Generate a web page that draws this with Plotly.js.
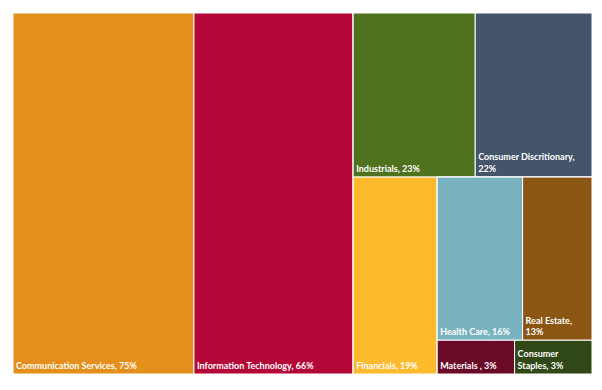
<!DOCTYPE html>
<html><head><meta charset="utf-8">
<script src="https://cdn.plot.ly/plotly-3.0.1.min.js"></script>
<style>html,body{margin:0;padding:0;background:#fff}</style>
</head><body><div id="chart" style="width:602px;height:390px"></div>
<script>
const categories = ["Communication Services","Information Technology","Industrials","Consumer Discritionary","Financials","Health Care","Real Estate","Materials ","Consumer Staples"];
const values = [75,66,23,22,19,16,13,3,3];
const colors = ["#E48F1B","#B30838","#4F721E","#44546A","#FDBA2C","#7AB3C0","#8B5514","#6A0A26","#2F4815"];
// words on the first label line (0 = single line)
const wrapWords = [0,0,0,2,0,0,2,0,1];
// strip grouping of tiles as laid out in the reference (indices into categories)
const tree = ["root", [0, 1, ["g1", [["g2", [2, 3]], ["g3", [4, ["g4", [["g5", [5, 6]], ["g6", [7, 8]]]]]]]]]];

const ids = [], parents = [], vals = [], cols = [], tmpl = [], labs = [];
function labelText(i) {
  const full = categories[i] + ", " + values[i] + "%";
  if (!wrapWords[i]) return full;
  const w = full.split(" ");
  return w.slice(0, wrapWords[i]).join(" ") + "<br>" + w.slice(wrapWords[i]).join(" ");
}
function walk(node, parent) {
  if (typeof node === "number") {
    ids.push("c" + node); parents.push(parent); vals.push(values[node]);
    cols.push(colors[node]); tmpl.push(labelText(node)); labs.push(categories[node]);
    return;
  }
  const [id, kids] = node;
  ids.push(id); parents.push(parent); vals.push(0); cols.push("#ffffff"); tmpl.push(""); labs.push("");
  kids.forEach(k => walk(k, id));
}
walk(tree, "");

const trace = {
  type: "treemap",
  ids: ids, labels: labs, parents: parents, values: vals,
  branchvalues: "remainder",
  sort: false,
  texttemplate: tmpl,
  textposition: "bottom left",
  textfont: {family: "Lato, 'Liberation Sans', sans-serif", size: 9, color: "#ffffff", weight: "bold"},
  marker: {colors: cols, line: {color: "#ffffff", width: 1}, pad: {t: 0, l: 0, r: 0, b: 0}},
  tiling: {packing: "slice-dice", pad: 0},
  pathbar: {visible: false},
  hoverinfo: "skip"
};
Plotly.newPlot("chart", [trace], {
  width: 602, height: 390,
  margin: {l: 13, r: 10, t: 13, b: 16},
  paper_bgcolor: "#ffffff",
  showlegend: false
}, {displayModeBar: false, staticPlot: true});
</script></body></html>
